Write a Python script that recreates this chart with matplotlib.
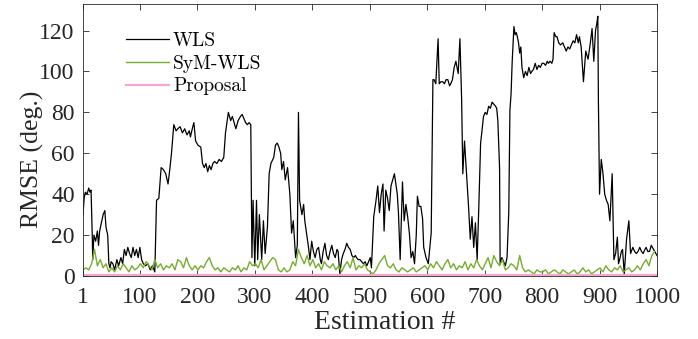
import matplotlib
matplotlib.use("Agg")
import matplotlib.pyplot as plt
import numpy as np

### Data ###
# WLS RMSE, sampled at the estimation index where it changes
wls_est = [1, 3, 5, 8, 11, 13, 15, 17, 18, 20, 23, 26, 28, 30, 33, 36, 39, 41, 44, 46,
           48, 50, 53, 56, 60, 63, 67, 70, 73, 76, 79, 82, 85, 88, 91, 94, 97, 100, 103, 106,
           110, 114, 118, 122, 126, 129, 133, 137, 141, 145, 149, 152, 155, 159, 163, 166, 170, 174, 178, 182,
           186, 188, 192, 194, 197, 201, 206, 209, 212, 215, 218, 221, 224, 227, 230, 234, 238, 242, 246, 249,
           254, 258, 261, 264, 267, 271, 275, 278, 281, 284, 287, 290, 293, 295, 297, 300, 303, 305, 308, 312,
           315, 318, 322, 325, 328, 333, 336, 339, 342, 345, 347, 350, 353, 357, 361, 364, 367, 371, 374, 376,
           378, 382, 385, 387, 390, 393, 396, 399, 402, 405, 408, 411, 414, 416, 419, 422, 425, 428, 431, 434,
           437, 440, 443, 445, 448, 451, 454, 457, 460, 463, 466, 469, 472, 475, 477, 480, 483, 486, 489, 492,
           495, 498, 501, 503, 507, 511, 514, 517, 520, 523, 525, 528, 531, 534, 537, 540, 543, 546, 548, 550,
           553, 557, 560, 563, 566, 569, 572, 575, 578, 581, 583, 586, 589, 592, 594, 598, 602, 607, 610, 612,
           615, 619, 621, 624, 627, 630, 633, 636, 639, 641, 644, 647, 650, 654, 657, 660, 662, 665, 669, 672,
           675, 678, 681, 684, 687, 690, 693, 695, 698, 701, 704, 707, 710, 713, 716, 719, 721, 723, 726, 727,
           730, 733, 736, 739, 742, 744, 746, 748, 751, 753, 755, 757, 759, 761, 763, 765, 768, 771, 774, 777,
           780, 782, 785, 788, 791, 794, 797, 800, 803, 806, 809, 811, 814, 817, 819, 821, 824, 826, 829, 832,
           836, 839, 842, 845, 848, 851, 854, 857, 860, 863, 865, 868, 872, 876, 880, 884, 887, 890, 893, 895,
           897, 898, 900, 903, 906, 909, 912, 915, 918, 922, 925, 928, 931, 933, 935, 938, 940, 943, 947, 951,
           954, 958, 961, 964, 967, 970, 973, 976, 979, 981, 984, 987, 990, 994, 998, 1000]
wls_rmse = [30, 38, 41, 40, 43, 41, 42, 21, 8, 20, 17, 22, 15, 22, 26, 30, 32, 24, 20, 6,
            4, 7, 6, 3, 8, 5, 9, 6, 13, 10, 14, 11, 9, 14, 10, 13, 9, 14, 8, 6,
            5, 6, 3, 5, 2, 37, 38, 53, 52, 50, 45, 52, 60, 74, 71, 72, 73, 70, 72, 69,
            71, 68, 73, 75, 66, 64, 63, 55, 53, 55, 51, 54, 52, 55, 56, 55, 57, 56, 58, 70,
            80, 76, 78, 75, 72, 76, 78, 79, 77, 75, 74, 75, 74, 9, 37, 5, 37, 8, 30, 8,
            27, 11, 24, 50, 55, 58, 64, 65, 63, 60, 52, 56, 47, 53, 40, 21, 27, 9, 15, 80,
            37, 30, 35, 27, 21, 15, 8, 17, 12, 9, 13, 14, 8, 6, 12, 16, 10, 8, 12, 15,
            11, 9, 13, 12, 1, 8, 11, 13, 16, 14, 13, 10, 9, 10, 9, 8, 8, 7, 6, 7,
            5, 7, 9, 4, 29, 37, 44, 31, 40, 45, 22, 42, 38, 32, 44, 47, 50, 44, 40, 31,
            8, 46, 27, 35, 29, 21, 9, 12, 6, 20, 39, 34, 34, 28, 14, 9, 6, 21, 96, 96,
            94, 116, 94, 95, 95, 94, 96, 96, 93, 94, 96, 102, 105, 99, 116, 86, 50, 66, 48, 34,
            18, 29, 14, 26, 8, 35, 65, 70, 78, 80, 79, 83, 82, 85, 84, 83, 82, 76, 53, 6,
            9, 7, 5, 9, 31, 81, 89, 105, 122, 118, 119, 117, 114, 109, 112, 102, 97, 100, 98, 102,
            99, 100, 101, 104, 101, 103, 102, 104, 104, 103, 105, 104, 105, 104, 106, 119, 117, 117, 114, 113,
            114, 112, 110, 112, 111, 113, 115, 114, 118, 114, 117, 112, 95, 110, 106, 114, 121, 105, 120, 123,
            127, 86, 40, 57, 50, 40, 37, 35, 27, 50, 8, 11, 19, 6, 8, 12, 13, 1, 18, 27,
            11, 14, 12, 11, 12, 14, 12, 11, 13, 14, 12, 12, 15, 13, 11, 10]

# SyM-WLS RMSE, every 5th estimation from 1 to 996
sym_est = list(range(1, 1000, 5))
sym_rmse = [3, 4, 3, 6, 13, 5, 8, 4, 6, 2,
            4, 2, 5, 3, 6, 4, 2, 5, 3, 4,
            6, 4, 7, 5, 3, 8, 4, 6, 3, 5,
            4, 6, 3, 8, 7, 4, 9, 5, 3, 5,
            3, 5, 4, 7, 9, 5, 3, 4, 2, 4,
            3, 2, 4, 3, 5, 2, 4, 3, 7, 5,
            6, 4, 8, 3, 5, 7, 9, 8, 3, 2,
            4, 2, 3, 7, 5, 13, 9, 6, 10, 5,
            8, 4, 6, 3, 7, 5, 4, 6, 3, 5,
            2, 5, 7, 4, 9, 3, 5, 4, 6, 3,
            2, 1, 3, 6, 8, 10, 5, 4, 6, 3,
            2, 4, 3, 2, 3, 4, 2, 3, 4, 5,
            3, 6, 4, 7, 5, 3, 6, 8, 4, 6,
            3, 5, 4, 7, 3, 6, 4, 8, 5, 3,
            6, 9, 4, 10, 7, 5, 8, 3, 4, 6,
            5, 3, 10, 4, 2, 3, 2, 1, 3, 2,
            2, 3, 1, 2, 3, 2, 1, 3, 2, 1,
            2, 3, 1, 2, 4, 2, 3, 1, 2, 3,
            4, 2, 5, 3, 2, 4, 3, 5, 2, 3,
            4, 2, 3, 5, 3, 6, 8, 5, 10, 12]

# Proposal RMSE stays close to zero
prop_est = [1, 250, 500, 750, 1000]
prop_rmse = [0.4, 0.4, 0.4, 0.4, 0.4]

x_ticks = [1, 100, 200, 300, 400, 500, 600, 700, 800, 900, 1000]
y_ticks = [0, 20, 40, 60, 80, 100, 120]

### Plot ###
plt.rcParams['font.family'] = ['Liberation Serif', 'DejaVu Serif']

fig = plt.figure(figsize=(6.98, 3.39), dpi=100)
ax = fig.add_axes([83 / 698, 1 - 276 / 339, 574 / 698, 272 / 339])

ax.plot(wls_est, wls_rmse, color='black', lw=0.9, label='WLS')
ax.plot(sym_est, sym_rmse, color='#77AC30', lw=1.0, label='SyM-WLS')
ax.plot(prop_est, prop_rmse, color='#F7A6CE', lw=1.6, label='Proposal')

ax.set_xlim(1, 1000)
ax.set_ylim(0, 133)
ax.set_xticks(x_ticks)
ax.set_yticks(y_ticks)
ax.tick_params(direction='in', top=True, right=True, length=4, width=0.6,
               labelsize=17, colors='#262626')
ax.tick_params(axis='x', pad=8)
ax.tick_params(axis='y', pad=6)
for s in ax.spines.values():
    s.set_linewidth(0.6)
    s.set_color('#262626')

ax.set_xlabel('Estimation #', fontsize=20, color='#262626')
ax.set_ylabel('RMSE (deg.)', fontsize=18.5, color='#262626')
ax.xaxis.set_label_coords(0.526, -0.125)
ax.yaxis.set_label_coords(-0.068, 0.43)

leg = ax.legend(loc='upper left', bbox_to_anchor=(0.045, 0.962), frameon=False,
                prop={'family': 'cmr10', 'size': 14}, handlelength=2.2,
                handletextpad=0.2, labelspacing=0.25)

fig.savefig('out.png', dpi=100)
